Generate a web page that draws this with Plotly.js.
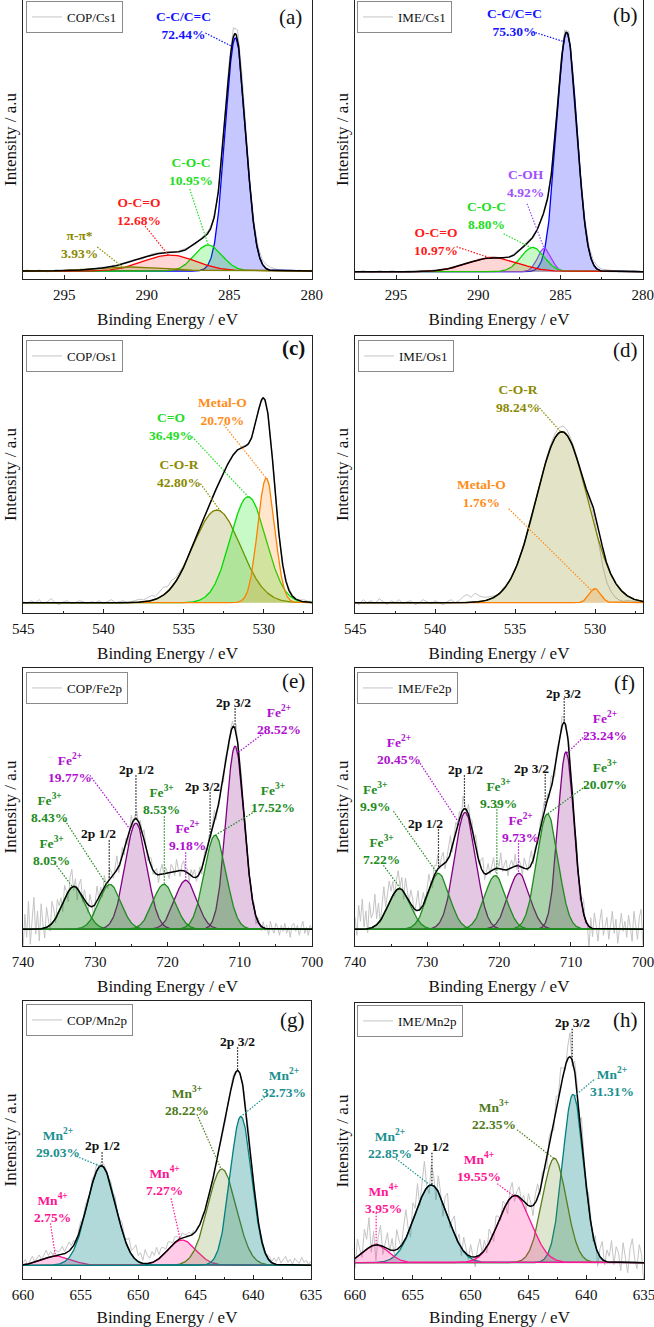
<!DOCTYPE html>
<html>
<head>
<meta charset="utf-8">
<script src="https://cdn.plot.ly/plotly-3.0.1.min.js"></script>
<style>
  html, body { margin: 0; padding: 0; background: #ffffff; }
  #xps { width: 654px; height: 1327px; }
</style>
</head>
<body>
<div id="xps"></div>
<script>
// XPS high-resolution spectra with peak deconvolution (C 1s, O 1s, Fe 2p, Mn 2p).
// Each fitted component is a Gaussian given by its centre, FWHM and area share;
// its height follows from the share (area per percent is a per-spectrum constant).

// ---------- C 1s, COP ----------
const csCopNames  = ['C-C/C=C', 'C-O-C', 'O-C=O', 'π-π*'];
const csCopShare  = ['72.44', '10.95', '12.68', '3.93'];
const csCopCenter = [284.63, 286.28, 288.60, 290.80];
const csCopFwhm   = [1.45, 1.96, 3.70, 4.58];
const csCopArea   = 4.664;
const csCopResid  = [0,1,0,0,1,0,-1,0,1,0, 0,1,0,0,1,0,0,-1,0,1, 0,0,1,0,1,0,0,1,0,-1,
                     0,1,1,0,0,1,0,0,1,2, 1,0,-1,1,2,2,1,0,2,4, 6,9,10,6,3,4,5,5,4,4,
                     3,2,1,1,0,1,0,1,0,0, 1];

// ---------- C 1s, IME ----------
const csImeNames  = ['C-C/C=C', 'C-OH', 'C-O-C', 'O-C=O'];
const csImeShare  = ['75.30', '4.92', '8.80', '10.97'];
const csImeCenter = [284.63, 285.98, 286.70, 289.10];
const csImeFwhm   = [1.45, 0.97, 1.67, 3.61];
const csImeArea   = 4.602;
const csImeResid  = [0,0,1,0,-1,0,1,0,0,1, 0,-1,0,1,0,0,1,0,0,1, 0,1,0,0,-1,1,0,1,0,0,
                     1,0,0,1,1,0,-1,1,0,2, 1,1,2,1,0,1,2,1,2,3, 4,6,6,4,3,4,5,4,4,3,
                     2,2,1,1,0,1,0,0,1,0, 0];

// ---------- O 1s, COP ----------
const osCopNames  = ['C-O-R', 'C=O', 'Metal-O'];
const osCopShare  = ['42.80', '36.49', '20.70'];
const osCopCenter = [532.93, 530.98, 529.85];
const osCopFwhm   = [3.50, 2.61, 1.26];
const osCopArea   = 7.58;
const osCopResid  = [1,-1,2,0,3,-1,1,4,0,-2, 1,2,-1,0,2,1,-1,1,0,2, -1,1,3,0,1,2,-1,1,2,3,
                     2,4,5,3,6,8,5,7,4,3, 2,1,2,0,1,0,-1,1,0,1, 0,1,0,-1,0,1,0,0,1,0,
                     0,1,0,-1,0,1,2,1,0,1, 2,1,1];

// ---------- O 1s, IME ----------
const osImeNames  = ['C-O-R', 'Metal-O'];
const osImeShare  = ['98.24', '1.76'];
const osImeCenter = [532.07, 530.00];
const osImeFwhm   = [3.80, 0.83];
const osImeArea   = 6.614;
const osImeResid  = [1,-2,3,0,2,-1,4,1,-2,2, 0,3,-1,1,2,-2,0,3,1,-1, 2,0,-2,1,3,0,2,6,8,5,
                     9,6,4,3,2,1,0,2,1,0, -1,0,1,0,-2,-1,0,1,2,3, 4,5,6,5,3,2,0,-1,-2,-4,
                     -8,-14,-18,-19,-17,-15,-12,-9,-5,-3, -2,-1,0];

// ---------- Fe 2p, COP ----------
const feCopNames  = ['Fe<sup>2+</sup>', 'Fe<sup>2+</sup>', 'Fe<sup>2+</sup>', 'Fe<sup>3+</sup>', 'Fe<sup>3+</sup>', 'Fe<sup>3+</sup>', 'Fe<sup>3+</sup>'];
const feCopShare  = ['28.52', '19.77', '9.18', '17.52', '8.53', '8.43', '8.05'];
const feCopCenter = [710.64, 724.37, 717.48, 713.40, 720.50, 727.98, 732.97];
const feCopFwhm   = [2.96, 3.54, 3.56, 3.54, 3.60, 3.56, 3.58];
const feCopArea   = 19.0;
const feCopResid  = [-20,15,-8,28,-15,10,32,-5,18,-12,25,5,-10,20,8,-6,22,12,-4,16,6,
  10,-8,14,4,-10,12,18,-4,8,-12,6,14,-6,10,2,-8,12,4,-10,6,16,-2,8,-6,12,0,-8,10,4,-4,8,14,-6,2,10,-4,6,-8,4,10,
  -6,4,8,-4,6,-2,10,2,-6,4,8,-4,2,6,-8,4,10,-2,6,0,-6,8,4,-4,12,2,-6,6,10,-2,
  4,-8,6,2,8,-4,0,6,-6,4,8,-2,6,-4,2,10,-6,4,0,6,-4,8,2,-6,4,6,-2,8,-4,2,
  6,-4,8,2,-6,4,-2,6,-8,4,2,-4,6,-2,4,-6,8,0,-4,6,2,-6,4,-2,6,-4,2,-8,4,6,-2,4,-6,2,8,-4,2,-6,4,0];

// ---------- Fe 2p, IME ----------
const feImeNames  = ['Fe<sup>2+</sup>', 'Fe<sup>2+</sup>', 'Fe<sup>2+</sup>', 'Fe<sup>3+</sup>', 'Fe<sup>3+</sup>', 'Fe<sup>3+</sup>', 'Fe<sup>3+</sup>'];
const feImeShare  = ['23.24', '20.45', '9.73', '20.07', '9.39', '9.9', '7.22'];
const feImeCenter = [710.70, 724.70, 717.24, 713.26, 720.53, 728.41, 733.84];
const feImeFwhm   = [2.62, 3.50, 3.48, 3.48, 3.50, 3.54, 3.55];
const feImeArea   = 20.0;
const feImeResid  = [12,-6,24,8,30,2,18,-4,26,10,14,32,6,20,-2,16,28,4,12,22,8,
  14,-4,10,18,2,12,-8,16,6,-2,14,8,-6,10,20,0,6,12,-4,8,16,2,-8,10,6,14,-2,8,12,-6,4,10,18,-4,6,12,0,8,-6,14,
  4,-6,10,2,8,-4,12,6,-2,8,14,-6,4,10,-2,6,12,-4,8,2,16,-2,6,10,-6,4,8,0,12,-4,
  6,2,-8,10,4,-2,8,14,-4,6,2,-6,8,4,10,-2,6,-4,12,2,-6,8,4,-2,10,6,-4,2,8,-2,
  8,-6,12,4,-10,6,14,-4,2,-22,10,-8,16,4,-12,8,20,-6,2,12,-10,6,18,-4,10,-14,4,16,-2,8,-8,14,2,-12,18,6,-10,12,20,-16];

// ---------- Mn 2p, COP ----------
const mnCopNames  = ['Mn<sup>4+</sup>', 'Mn<sup>4+</sup>', 'Mn<sup>3+</sup>', 'Mn<sup>2+</sup>', 'Mn<sup>2+</sup>'];
const mnCopShare  = ['2.75', '7.27', '28.22', '29.03', '32.73'];
const mnCopCenter = [657.05, 646.20, 642.73, 653.20, 641.08];
const mnCopFwhm   = [2.96, 2.87, 2.93, 2.92, 2.20];
const mnCopArea   = 10.0;
const mnCopResid  = [2,5,-1,4,7,1,3,6,0,4,8,2,5,1,6,3,
  4,8,2,6,9,3,5,-2,4,7,1,6,3,-1,5,2,7,0,4,3,
  2,-3,4,1,6,-2,3,8,2,5,12,4,9,15,6,10,3,14,8,5,
  11,6,13,4,9,7,3,8,5,2,6,4,-1,5,3,2,4,1,3,0,
  2,-1,3,0,2,-2,1,3,-1,2,0,1,-2,3,1,4,2,-1,1,0,
  2,-1,3,1,0,2,-2,1,3,0,2,4,1,6,3,8,2,5,9,3,6,1,7,4,2,8,3,5,1,4];

// ---------- Mn 2p, IME ----------
const mnImeNames  = ['Mn<sup>2+</sup>', 'Mn<sup>2+</sup>', 'Mn<sup>3+</sup>', 'Mn<sup>4+</sup>', 'Mn<sup>4+</sup>'];
const mnImeShare  = ['31.31', '22.85', '22.35', '19.55', '3.95'];
const mnImeCenter = [641.13, 653.41, 642.75, 646.18, 658.18];
const mnImeFwhm   = [2.12, 3.35, 2.44, 3.33, 2.54];
const mnImeArea   = 11.4;
const mnImeResid  = [-10,18,6,-4,22,10,30,-6,14,-16,8,20,-8,4,16,-2,
  12,-6,20,8,-2,16,28,4,-10,18,6,24,-4,14,30,2,-8,20,10,-12,
  16,4,-14,12,22,-6,8,18,-2,10,-8,14,6,-4,12,2,-10,8,16,0,
  10,-6,14,4,-8,12,6,-4,10,2,-12,8,14,-6,4,10,-2,6,-8,12,
  4,-10,8,14,-4,10,2,-8,12,6,-6,16,4,20,8,-4,12,24,-6,10,
  6,-12,16,4,-8,12,2,-6,10,-14,8,18,-4,12,6,22,-2,16,10,-8,20,6,-10,14,24,4,-6,18,8,-20];

// ---------- styles ----------
const FONT = 'Liberation Serif, Times New Roman, serif';
const W = 654, H = 1327;

const BLUE = ['#0000ff', 'rgba(0,0,255,0.22)', '#1414ff'];
const LIME = ['#00dd00', 'rgba(0,230,0,0.22)', '#22dd22'];
const RED = ['#ff0000', 'rgba(255,0,0,0.16)', '#ff1a1a'];
const OLIVE = ['#808000', 'rgba(128,128,0,0.22)', '#8a8a00'];
const VIOLET = ['#a040ff', 'rgba(160,64,255,0.25)', '#a050ff'];
const ORANGE = ['#ff8000', 'rgba(255,128,0,0.2)', '#ff8c1a'];
const FE2 = ['#800080', 'rgba(128,0,128,0.22)', '#b010d0'];
const FE3 = ['#1e8c1e', 'rgba(34,139,34,0.38)', '#228b22'];
const TEAL = ['#008080', 'rgba(0,128,128,0.3)', '#1a8f8f'];
const PINK = ['#ff1493', 'rgba(255,20,147,0.22)', '#ff1493'];
const MN3 = ['#5a7d1e', 'rgba(107,142,35,0.22)', '#4f7a1a'];

// ---------- panels: data + frame, ranges and callout placement ----------
const panels = [
  { tag: '(a)', sample: 'COP/Cs1', names: csCopNames, share: csCopShare, center: csCopCenter, fwhm: csCopFwhm,
    area: csCopArea, resid: csCopResid, rawStart: 297.5, rawStep: 0.25,
    styles: [BLUE, LIME, RED, OLIVE],
    box: [23, 312, 0, 279], xRange: [297.5, 279.99], yRange: [-8, 271], dtick: 5, minor: 2.5,
    legendAt: [26, 1], tagAt: [290, 17],
    callouts: [
      { k: 0, at: [287.8, 246], from: [286.45, 238], to: 284.8 },
      { k: 1, at: [287.3, 100], from: [287.4, 82], to: 286.28 },
      { k: 2, at: [290.5, 60], from: [290.1, 45], to: 288.7 },
      { k: 3, at: [294.1, 27], from: [293.0, 24], to: 291.45 }],
    bands: [] },
  { tag: '(b)', sample: 'IME/Cs1', names: csImeNames, share: csImeShare, center: csImeCenter, fwhm: csImeFwhm,
    area: csImeArea, resid: csImeResid, rawStart: 297.5, rawStep: 0.25,
    styles: [BLUE, VIOLET, LIME, RED],
    box: [355, 643, 0, 279], xRange: [297.5, 279.99], yRange: [-7.3, 271.7], dtick: 5, minor: 2.5,
    legendAt: [357, 1], tagAt: [625, 15],
    callouts: [
      { k: 0, at: [287.8, 249], from: [286.7, 240], to: 284.8 },
      { k: 1, at: [287.14, 88], from: [287.04, 68], to: 286.0 },
      { k: 2, at: [289.5, 56], from: [288.47, 38], to: 286.8 },
      { k: 3, at: [292.55, 30], from: [291.33, 25], to: 289.3 }],
    bands: [] },
  { tag: '<b>(c)</b>', sample: 'COP/Os1', names: osCopNames, share: osCopShare, center: osCopCenter, fwhm: osCopFwhm,
    area: osCopArea, resid: osCopResid, rawStart: 545, rawStep: 0.25,
    styles: [OLIVE, LIME, ORANGE],
    box: [23, 312, 336, 613], xRange: [545.01, 527], yRange: [-10.3, 266.7], dtick: 5, minor: 2.5,
    legendAt: [26, 340], tagAt: [293, 348],
    callouts: [
      { k: 2, at: [532.6, 191], from: [532.5, 178], to: 529.85 },
      { k: 1, at: [535.8, 176], from: [534.47, 166], to: 530.98 },
      { k: 0, at: [535.3, 129], from: [533.95, 119], to: 532.7 }],
    bands: [] },
  { tag: '(d)', sample: 'IME/Os1', names: osImeNames, share: osImeShare, center: osImeCenter, fwhm: osImeFwhm,
    area: osImeArea, resid: osImeResid, rawStart: 545, rawStep: 0.25,
    styles: [OLIVE, ORANGE],
    box: [355, 643, 336, 613], xRange: [545.01, 527], yRange: [-10.3, 266.7], dtick: 5, minor: 2.5,
    legendAt: [358, 340], tagAt: [625, 350],
    callouts: [
      { k: 0, at: [534.83, 204], from: [533.6, 197], to: 532.14 },
      { k: 1, at: [537.1, 109], from: [535.4, 94], to: 530.2 }],
    bands: [] },
  { tag: '(e)', sample: 'COP/Fe2p', names: feCopNames, share: feCopShare, center: feCopCenter, fwhm: feCopFwhm,
    area: feCopArea, resid: feCopResid, rawStart: 740, rawStep: 0.25,
    styles: [FE2, FE2, FE2, FE3, FE3, FE3, FE3],
    box: [23, 312, 668, 946], xRange: [740.01, 699.99], yRange: [-16.7, 261.3], dtick: 10, minor: 5,
    legendAt: [26, 672], tagAt: [293, 681],
    callouts: [
      { k: 0, at: [704.6, 209], from: [706.7, 196], to: 710.3 },
      { k: 3, at: [705.4, 131], from: [707.86, 118], to: 713.4 },
      { k: 2, at: [717.2, 93], from: [717.48, 77], to: 717.48 },
      { k: 4, at: [720.9, 129], from: [720.44, 113], to: 720.44 },
      { k: 1, at: [733.5, 161], from: [730.75, 154], to: 724.97 },
      { k: 5, at: [736.3, 121], from: [734.2, 109], to: 728.35 },
      { k: 6, at: [736.07, 78], from: [735.6, 66], to: 733.16 }],
    bands: [
      { text: '2p 3/2', at: [710.87, 227], from: [710.64, 221], to: 710.64 },
      { text: '2p 3/2', at: [715.1, 143], from: [714.1, 137], to: 714.1 },
      { text: '2p 1/2', at: [724.28, 160], from: [724.37, 154], to: 724.37 },
      { text: '2p 1/2', at: [729.6, 96], from: [728.07, 89], to: 728.07 }] },
  { tag: '(f)', sample: 'IME/Fe2p', names: feImeNames, share: feImeShare, center: feImeCenter, fwhm: feImeFwhm,
    area: feImeArea, resid: feImeResid, rawStart: 740, rawStep: 0.25,
    styles: [FE2, FE2, FE2, FE3, FE3, FE3, FE3],
    box: [355, 643, 668, 946], xRange: [740.01, 699.99], yRange: [-16.7, 261.3], dtick: 10, minor: 5,
    legendAt: [357, 672], tagAt: [624, 683],
    callouts: [
      { k: 0, at: [705.24, 203], from: [708.0, 194], to: 710.57 },
      { k: 3, at: [705.24, 154], from: [708.0, 143], to: 713.26 },
      { k: 2, at: [717.06, 101], from: [717.29, 89], to: 717.29 },
      { k: 4, at: [720.07, 135], from: [720.3, 123], to: 720.3 },
      { k: 1, at: [733.84, 179], from: [730.96, 166], to: 725.4 },
      { k: 5, at: [737.2, 132], from: [734.67, 118], to: 728.55 },
      { k: 6, at: [736.3, 79], from: [736.06, 64], to: 733.65 }],
    bands: [
      { text: '2p 3/2', at: [711.03, 236], from: [710.94, 231], to: 710.94 },
      { text: '2p 3/2', at: [715.43, 161], from: [713.58, 155], to: 713.58 },
      { text: '2p 1/2', at: [724.7, 160], from: [724.8, 154], to: 724.8 },
      { text: '2p 1/2', at: [730.27, 106], from: [728.41, 100], to: 728.41 }] },
  { tag: '(g)', sample: 'COP/Mn2p', names: mnCopNames, share: mnCopShare, center: mnCopCenter, fwhm: mnCopFwhm,
    area: mnCopArea, resid: mnCopResid, rawStart: 660, rawStep: 0.2,
    styles: [PINK, PINK, MN3, TEAL, TEAL],
    box: [23, 311, 1001, 1279], xRange: [660.01, 634.99], yRange: [-13.7, 264.3], dtick: 5, minor: 2.5,
    legendAt: [26, 1004], tagAt: [292, 1020],
    callouts: [
      { k: 4, at: [637.3, 182], from: [638.8, 170], to: 641.08 },
      { k: 2, at: [645.76, 164], from: [644.9, 151], to: 642.8 },
      { k: 3, at: [657.0, 122], from: [655.37, 109], to: 653.3 },
      { k: 1, at: [647.73, 84], from: [647.15, 67], to: 646.34 },
      { k: 0, at: [657.48, 57], from: [657.63, 42], to: 657.19 }],
    bands: [
      { text: '2p 3/2', at: [641.37, 224], from: [641.37, 218], to: 641.37 },
      { text: '2p 1/2', at: [653.14, 120], from: [653.14, 113], to: 653.14 }] },
  { tag: '(h)', sample: 'IME/Mn2p', names: mnImeNames, share: mnImeShare, center: mnImeCenter, fwhm: mnImeFwhm,
    area: mnImeArea, resid: mnImeResid, rawStart: 660, rawStep: 0.2,
    styles: [TEAL, TEAL, MN3, PINK, PINK],
    box: [355, 644, 1003, 1279], xRange: [660.01, 634.99], yRange: [-16.3, 259.7], dtick: 5, minor: 2.5,
    legendAt: [357, 1005], tagAt: [625, 1020],
    callouts: [
      { k: 0, at: [637.75, 181], from: [639.33, 183], to: 641.0 },
      { k: 2, at: [648.0, 148], from: [645.98, 133], to: 642.8 },
      { k: 3, at: [649.3, 96], from: [647.7, 79], to: 646.27 },
      { k: 1, at: [656.97, 119], from: [656.68, 106], to: 653.5 },
      { k: 4, at: [657.54, 64], from: [658.18, 50], to: 658.18 }],
    bands: [
      { text: '2p 3/2', at: [641.21, 240], from: [641.21, 234], to: 641.21 },
      { text: '2p 1/2', at: [653.35, 116], from: [653.35, 110], to: 653.35 }] }
];

function gauss(x, c, h, w) {
  const s = w / 2.35482, d = (x - c) / s;
  return h * Math.exp(-0.5 * d * d);
}

const traces = [];
const annotations = [];
const shapes = [];
const layout = {
  width: W, height: H,
  margin: { l: 0, r: 0, t: 0, b: 0 },
  paper_bgcolor: '#ffffff', plot_bgcolor: '#ffffff',
  font: { family: FONT, color: '#000000' },
  annotations: annotations, shapes: shapes
};

const leader = (xa, ya, x0, y0, x1, y1, color) => shapes.push({
  type: 'line', xref: xa, yref: ya, x0: x0, y0: y0, x1: x1, y1: y1,
  line: { color: color, width: 1.2, dash: '1.5px,1.5px' }, layer: 'above'
});

panels.forEach((p, i) => {
  const n = i + 1;
  const sfx = n === 1 ? '' : String(n);
  const xa = 'x' + sfx, ya = 'y' + sfx, lg = 'legend' + sfx;

  const heights = p.share.map((s, k) => p.area * parseFloat(s) / p.fwhm[k]);
  const comp = (k, x) => gauss(x, p.center[k], heights[k], p.fwhm[k]);
  const env = x => p.center.reduce((t, _, k) => t + comp(k, x), 0);

  const lo = Math.min(p.xRange[0], p.xRange[1]), hi = Math.max(p.xRange[0], p.xRange[1]);
  const xs = [];
  for (let j = 0; j <= 900; j++) xs.push(lo + (hi - lo) * j / 900);

  // measured spectrum (fit envelope plus residual)
  const rx = p.resid.map((_, j) => p.rawStart - p.rawStep * j);
  traces.push({
    type: 'scatter', mode: 'lines', x: rx, y: rx.map((x, j) => env(x) + p.resid[j]),
    xaxis: xa, yaxis: ya, name: p.sample, legend: lg, showlegend: true,
    line: { color: '#c4c4c4', width: 1 }, hoverinfo: 'skip'
  });

  // fitted components, filled down to the baseline
  p.center.forEach((c, k) => {
    const st = p.styles[k];
    traces.push({
      type: 'scatter', mode: 'lines', x: xs, y: xs.map(x => comp(k, x)),
      xaxis: xa, yaxis: ya, fill: 'tozeroy', fillcolor: st[1],
      line: { color: st[0], width: 1.3 }, showlegend: false, hoverinfo: 'skip'
    });
  });

  // cumulative fit
  traces.push({
    type: 'scatter', mode: 'lines', x: xs, y: xs.map(env),
    xaxis: xa, yaxis: ya, line: { color: '#000000', width: 1.5 },
    showlegend: false, hoverinfo: 'skip'
  });

  const [l, r, t, b] = p.box;
  layout['xaxis' + sfx] = {
    domain: [l / W, r / W], range: p.xRange, anchor: ya,
    showline: true, mirror: true, linecolor: '#222', linewidth: 1.2,
    ticks: 'inside', ticklen: 4, tickwidth: 1, tickcolor: '#222',
    tick0: 0, dtick: p.dtick,
    minor: { dtick: p.minor, tick0: 0, ticks: 'inside', ticklen: 2.5, tickcolor: '#222', showgrid: false },
    ticklabelstandoff: 2, ticklabeloverflow: 'allow',
    showgrid: false, zeroline: false, fixedrange: true,
    tickfont: { family: FONT, size: 15, color: '#111' },
    title: { text: 'Binding Energy / eV', font: { family: FONT, size: 17, color: '#111' }, standoff: 10 }
  };
  layout['yaxis' + sfx] = {
    domain: [1 - b / H, 1 - t / H], range: p.yRange, anchor: xa,
    showline: true, mirror: true, linecolor: '#222', linewidth: 1.2,
    ticks: '', showticklabels: false, showgrid: false, zeroline: false, fixedrange: true,
    title: { text: 'Intensity / a.u', font: { family: FONT, size: 17, color: '#111' }, standoff: 0 }
  };
  layout[lg] = {
    x: p.legendAt[0] / W, y: 1 - p.legendAt[1] / H, xanchor: 'left', yanchor: 'top',
    bgcolor: '#ffffff', bordercolor: '#8a8a8a', borderwidth: 1,
    font: { family: FONT, size: 13, color: '#111' }, itemwidth: 30, tracegroupgap: 0
  };

  annotations.push({
    xref: 'paper', yref: 'paper', x: p.tagAt[0] / W, y: 1 - p.tagAt[1] / H,
    xanchor: 'center', yanchor: 'middle', showarrow: false,
    text: p.tag, font: { family: FONT, size: 21, color: '#111' }
  });

  // component callouts: name + area share, dotted leader onto the component
  p.callouts.forEach(cl => {
    const col = p.styles[cl.k][2];
    annotations.push({
      xref: xa, yref: ya, x: cl.at[0], y: cl.at[1], showarrow: false,
      xanchor: 'center', yanchor: 'middle', align: 'center',
      text: '<b>' + p.names[cl.k] + '</b><br><b>' + p.share[cl.k] + '%</b>',
      font: { family: FONT, size: 13.5, color: col }
    });
    leader(xa, ya, cl.from[0], cl.from[1], cl.to, comp(cl.k, cl.to), col);
  });

  // spin-orbit labels pointing at the envelope
  p.bands.forEach(bd => {
    annotations.push({
      xref: xa, yref: ya, x: bd.at[0], y: bd.at[1], showarrow: false,
      xanchor: 'center', yanchor: 'middle',
      text: '<b>' + bd.text + '</b>', font: { family: FONT, size: 13.5, color: '#111' }
    });
    leader(xa, ya, bd.from[0], bd.from[1], bd.to, env(bd.to), '#111');
  });
});

Plotly.newPlot('xps', traces, layout, { staticPlot: true, displayModeBar: false });
</script>
</body>
</html>
